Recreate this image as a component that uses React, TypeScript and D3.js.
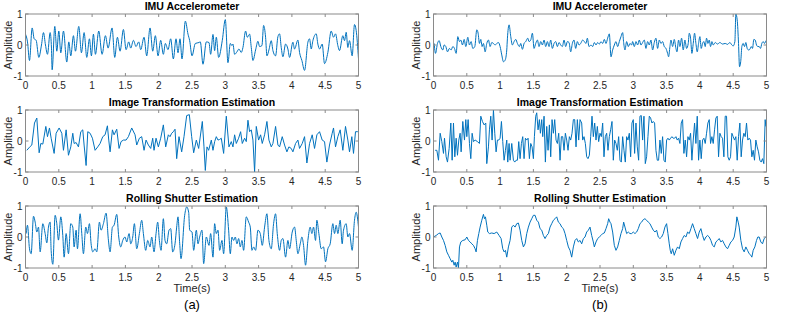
import React from "react";
import * as d3 from "d3";

type Pt = [number, number];

// tick values shared by every panel
const timeTicks = [0, 0.5, 1, 1.5, 2, 2.5, 3, 3.5, 4, 4.5, 5];
const ampTicks = [-1, 0, 1];

// (a) IMU accelerometer, [time s, amplitude]
const imuA: Pt[] = [
  [0, 0.35], [0.03, 0.1], [0.06, -0.5], [0.1, 0.55], [0.13, 0.2], [0.16, 0.15], [0.2, -0.4], [0.24, 0],
  [0.27, 0.4], [0.3, 0], [0.33, -0.3], [0.37, 0.4], [0.39, -0.1], [0.4, -0.8], [0.44, 0.6], [0.47, -0.2],
  [0.5, 0.45], [0.53, -0.25], [0.57, 0.45], [0.62, -0.55], [0.65, 0.1], [0.68, -0.35], [0.72, 0.3],
  [0.75, -0.2], [0.8, 0.6], [0.84, -0.25], [0.88, 0.4], [0.92, -0.4], [0.96, 0.2], [0.99, -0.35],
  [1.02, 0.35], [1.05, -0.3], [1.1, 0.45], [1.15, -0.3], [1.2, 0.3], [1.24, -0.1], [1.3, 0.55],
  [1.34, -0.4], [1.38, 0.25], [1.42, -0.2], [1.47, 0.5], [1.51, -0.15], [1.55, 0.1], [1.58, -0.1],
  [1.62, 0.15], [1.66, -0.05], [1.7, 0.1], [1.73, -0.15], [1.78, 0.25], [1.82, -0.35], [1.87, 0.55],
  [1.91, -0.2], [1.95, 0.3], [1.99, -0.35], [2.03, 0.15], [2.07, -0.3], [2.1, 0.05], [2.14, -0.15],
  [2.18, 0.2], [2.22, -0.45], [2.26, 0.2], [2.29, -0.25], [2.32, 0.2], [2.35, -0.45], [2.4, 0.77],
  [2.44, 0.35], [2.465, 0.14], [2.5, -0.35], [2.55, 0.05], [2.605, 0.08], [2.625, 0.1], [2.665, -0.62],
  [2.715, 0.1], [2.755, 0.08], [2.78, -0.3], [2.815, 0.34], [2.84, -0.18], [2.865, 0.25], [2.9, -0.4],
  [2.955, 0.15], [3.0, 0.82], [3.04, -0.57], [3.075, 0.05], [3.1, -0.02], [3.115, 0.03], [3.14, -0.3],
  [3.175, -0.22], [3.205, -0.13], [3.24, -0.24], [3.265, -0.08], [3.305, 0.45], [3.33, 0.25],
  [3.365, 0.35], [3.39, -0.08], [3.415, -0.5], [3.455, -0.16], [3.49, 0.12], [3.515, -0.05],
  [3.55, -0.02], [3.575, 0.63], [3.605, 0.25], [3.625, -0.35], [3.655, -0.16], [3.69, 0.14],
  [3.715, -0.18], [3.755, -0.35], [3.79, 0.27], [3.815, 0.36], [3.84, -0.08], [3.865, -0.38],
  [3.905, 0.03], [3.94, -0.13], [3.965, -0.4], [4.015, 0.09], [4.04, -0.13], [4.09, 0.16],
  [4.115, -0.24], [4.15, -0.5], [4.19, -0.82], [4.24, 0.09], [4.265, 0.2], [4.29, -0.13], [4.315, 0.14],
  [4.365, 0.36], [4.39, 0.03], [4.415, -0.13], [4.455, 0.03], [4.49, -0.6], [4.54, -0.24], [4.59, 0.45],
  [4.625, 0.25], [4.655, 0.36], [4.69, -0.02], [4.715, -0.18], [4.765, 0.3], [4.79, 0.14], [4.815, 0.41],
  [4.84, -0.08], [4.865, 0.14], [4.905, -0.35], [4.94, 0.66], [4.965, 0.47], [5.0, -0.45],
];

// (a) image transformation estimation
const imgA: Pt[] = [
  [0.02, -0.3], [0.06, -0.2], [0.095, -0.13], [0.135, 0.58], [0.17, 0.74], [0.205, -0.38], [0.23, -0.08],
  [0.26, -0.1], [0.305, 0.47], [0.33, 0.14], [0.36, 0.42], [0.385, 0.09], [0.43, -0.4], [0.46, 0.25],
  [0.505, 0.42], [0.545, 0.25], [0.57, -0.3], [0.61, 0.36], [0.645, -0.46], [0.68, -0.19], [0.71, 0.25],
  [0.73, -0.08], [0.76, -0.05], [0.795, -0.19], [0.83, 0.3], [0.86, 0.36], [0.88, -0.13], [0.91, -0.79],
  [0.935, 0.3], [0.97, 0.25], [1.005, 0.09], [1.045, -0.3], [1.085, -0.19], [1.12, -0.08], [1.16, 0.14],
  [1.195, 0.2], [1.23, 0.49], [1.25, 0.03], [1.27, -0.35], [1.305, 0.36], [1.33, 0.2], [1.37, 0.38],
  [1.405, -0.24], [1.435, -0.02], [1.47, 0.03], [1.51, 0.03], [1.545, 0.14], [1.595, 0.42], [1.645, 0.2],
  [1.67, -0.13], [1.71, 0.09], [1.745, 0.14], [1.78, -0.3], [1.81, 0.03], [1.845, -0.13], [1.88, -0.24],
  [1.91, 0.09], [1.93, -0.3], [1.96, 0.09], [1.995, -0.19], [2.03, 0.09], [2.07, 0.52], [2.105, -0.19],
  [2.145, 0.2], [2.17, 0.14], [2.195, 0.25], [2.22, 0.3], [2.245, 0.38], [2.27, -0.57], [2.305, 0.14],
  [2.345, -0.35], [2.38, 0.14], [2.42, 0.82], [2.46, 0.85], [2.495, 0.14], [2.525, -0.38], [2.565, 0.03],
  [2.6, -0.24], [2.655, 0.63], [2.68, -0.19], [2.7, -0.95], [2.725, -0.19], [2.75, -0.3], [2.79, 0.03],
  [2.815, -0.3], [2.84, -0.02], [2.865, 0.14], [2.89, 0.03], [2.915, 0.05], [2.94, 0.09], [2.975, -0.4],
  [3.015, 0.8], [3.055, -0.19], [3.09, -0.02], [3.115, -0.19], [3.14, 0.2], [3.165, -0.08], [3.2, 0.09],
  [3.23, 0.3], [3.255, -0.08], [3.29, 0.09], [3.315, -0.02], [3.34, 0.67], [3.365, 0.3], [3.39, 0.36],
  [3.415, 0.03], [3.44, -1.0], [3.465, 0.47], [3.5, 0.03], [3.53, 0.2], [3.555, -0.08], [3.59, 0.2],
  [3.625, 0.63], [3.655, 0.03], [3.69, -0.19], [3.715, -0.08], [3.755, 0.47], [3.79, -0.13],
  [3.815, -0.19], [3.855, 0.14], [3.89, -0.13], [3.925, -0.35], [3.955, -0.19], [3.99, -0.24],
  [4.015, -0.35], [4.055, -0.08], [4.09, 0.03], [4.115, -0.24], [4.155, -0.08], [4.19, 0.14],
  [4.225, -0.71], [4.265, -0.08], [4.305, 0.2], [4.34, -0.24], [4.375, 0.2], [4.415, 0.3], [4.455, 0.03],
  [4.49, -0.02], [4.525, -0.68], [4.565, -0.13], [4.605, 0.25], [4.625, 0.42], [4.655, -0.19],
  [4.69, 0.14], [4.725, 0.36], [4.765, -0.3], [4.805, 0.47], [4.84, 0.03], [4.865, -0.35], [4.9, 0.14],
  [4.925, -0.4], [4.955, 0.3], [4.99, 0.3],
];

// (a) rolling shutter estimation
const rsA: Pt[] = [
  [0.01, 0.11], [0.03, 0.38], [0.06, -0.38], [0.085, -0.54], [0.12, 0.67], [0.145, 0.48], [0.17, 0.16],
  [0.195, 0.32], [0.22, -0.48], [0.26, 0.43], [0.295, 0.11], [0.32, -0.19], [0.345, 0.32], [0.37, 0.48],
  [0.385, -0.43], [0.41, -0.88], [0.445, 0.7], [0.47, 0.43], [0.495, -0.1], [0.53, 0.65], [0.56, 0.05],
  [0.58, -0.65], [0.61, 0.11], [0.645, -0.54], [0.68, 0.43], [0.71, 0.32], [0.73, -0.32], [0.76, 0.22],
  [0.78, -0.38], [0.82, 0.75], [0.845, 0.11], [0.87, -0.54], [0.905, 0.32], [0.93, 0.11], [0.96, 0.43],
  [0.985, -0.22], [1.01, -0.48], [1.045, -0.38], [1.07, -0.48], [1.11, 0.48], [1.135, 0.22], [1.17, 0.43],
  [1.21, 0.77], [1.245, -0.1], [1.27, -0.48], [1.305, 0.32], [1.33, 0.38], [1.37, 0.73], [1.4, 0],
  [1.43, -0.32], [1.46, -0.11], [1.495, 0], [1.52, -0.16], [1.555, 0.11], [1.58, -0.22], [1.61, 0],
  [1.635, 0.43], [1.67, -0.38], [1.71, 0.11], [1.745, 0.54], [1.77, 0.11], [1.805, -0.43], [1.835, -0.11],
  [1.87, -0.32], [1.895, 0], [1.93, -0.48], [1.96, 0.11], [1.985, 0.48], [2.01, -0.11], [2.035, -0.43],
  [2.07, 0.59], [2.095, -0.11], [2.12, -0.22], [2.155, 0.22], [2.18, 0.27], [2.21, -0.48], [2.245, -0.22],
  [2.27, 0.32], [2.29, 0.65], [2.315, -0.2], [2.335, -0.7], [2.39, 0.7], [2.42, 0.97], [2.45, 0.8],
  [2.465, 0.22], [2.5, 0.16], [2.525, -0.43], [2.565, 0.22], [2.59, -0.22], [2.615, 0], [2.65, 0.22],
  [2.675, -0.86], [2.715, 0], [2.755, -0.27], [2.78, 0.11], [2.815, -0.65], [2.84, 0.43], [2.865, 0.11],
  [2.89, 0.22], [2.915, -0.43], [2.95, -0.11], [2.975, -0.54], [3.015, 0.97], [3.05, 0.22], [3.075, -0.54],
  [3.1, 0], [3.125, -0.11], [3.15, 0], [3.175, -0.22], [3.2, -0.05], [3.225, -0.32], [3.25, -0.11],
  [3.275, -0.43], [3.315, 0.65], [3.35, 0.48], [3.375, 0.32], [3.4, -0.43], [3.425, -0.32], [3.455, -0.43],
  [3.49, 0.22], [3.525, 0.11], [3.555, -0.27], [3.59, 0.32], [3.625, 0.75], [3.655, -0.11], [3.69, -0.38],
  [3.725, 0.43], [3.755, 0.75], [3.78, 0.11], [3.815, -0.43], [3.84, -0.11], [3.865, -0.05], [3.905, -0.65],
  [3.94, -0.11], [3.965, -0.38], [4.005, 0.16], [4.04, 0.32], [4.065, -0.11], [4.09, -0.54], [4.125, -0.22],
  [4.15, 0], [4.175, -0.27], [4.205, -0.91], [4.24, -0.11], [4.275, 0.32], [4.3, 0.11], [4.325, 0.32],
  [4.355, -0.11], [4.375, 0.54], [4.405, 0.11], [4.44, -0.38], [4.475, -0.32], [4.505, -0.8], [4.54, -0.38],
  [4.575, -0.22], [4.615, 0.43], [4.64, 0.11], [4.665, 0.38], [4.69, 0.11], [4.725, 0.54], [4.755, -0.22],
  [4.775, 0.22], [4.815, 0.43], [4.84, 0], [4.865, 0.11], [4.905, -0.43], [4.94, 0.54], [4.965, 0.8],
  [5.0, 0.32],
];

// (b) IMU accelerometer
const imuB: Pt[] = [
  [0.01, 0.05], [0.03, -0.27], [0.06, 0.05], [0.085, 0.14], [0.11, -0.05], [0.14, -0.16], [0.16, 0],
  [0.185, -0.05], [0.21, -0.22], [0.24, -0.11], [0.265, -0.16], [0.29, -0.05], [0.315, -0.11], [0.34, -0.27],
  [0.365, 0.27], [0.39, 0.11], [0.41, 0.16], [0.435, 0], [0.46, 0.18], [0.485, -0.05], [0.515, 0.25],
  [0.54, 0], [0.565, 0.11], [0.59, -0.11], [0.62, -0.05], [0.65, 0.49], [0.67, 0.38], [0.69, 0.05],
  [0.71, 0.18], [0.73, -0.05], [0.75, 0.05], [0.775, -0.22], [0.8, 0.05], [0.825, 0.16], [0.85, -0.05],
  [0.875, 0.08], [0.9, 0.05], [0.925, 0], [0.95, 0.05], [0.975, 0.08], [1.0, -0.05], [1.025, -0.32],
  [1.05, -0.54], [1.075, -0.49], [1.1, -0.16], [1.11, 0.22], [1.135, 0.65], [1.16, 0.27], [1.185, 0],
  [1.21, 0.11], [1.235, 0.18], [1.26, 0.05], [1.29, -0.05], [1.31, 0.05], [1.335, -0.14], [1.36, 0.05],
  [1.385, 0.11], [1.415, 0.22], [1.435, 0.11], [1.46, 0.16], [1.485, 0.38], [1.51, -0.11], [1.535, 0.05],
  [1.56, 0.16], [1.585, -0.05], [1.61, 0.11], [1.635, 0], [1.66, 0.16], [1.685, -0.05], [1.71, 0.11],
  [1.735, -0.05], [1.76, 0.16], [1.785, -0.11], [1.81, 0.05], [1.835, 0.11], [1.86, -0.05], [1.885, 0.08],
  [1.91, 0], [1.935, -0.05], [1.96, 0.16], [1.985, -0.05], [2.01, 0.11], [2.035, 0.08], [2.06, -0.22],
  [2.085, 0.05], [2.11, 0.16], [2.135, -0.11], [2.16, 0.11], [2.185, 0], [2.21, 0.05], [2.24, 0.16],
  [2.265, 0.11], [2.29, 0.05], [2.31, 0.22], [2.335, -0.05], [2.365, 0], [2.39, -0.05], [2.415, 0.08],
  [2.44, 0], [2.465, 0.08], [2.49, 0.03], [2.515, 0.11], [2.54, 0.05], [2.565, 0.18], [2.59, 0.05],
  [2.615, 0.22], [2.64, 0.36], [2.665, -0.38], [2.69, -0.16], [2.715, 0], [2.74, 0.11], [2.765, -0.05],
  [2.79, 0.11], [2.815, 0.27], [2.84, 0.4], [2.855, 0.08], [2.875, -0.16], [2.9, 0.11], [2.925, -0.05],
  [2.95, 0.05], [2.975, 0], [2.99, 0.11], [3.015, -0.05], [3.04, 0.11], [3.065, 0], [3.09, 0.16],
  [3.115, 0], [3.14, 0.08], [3.165, 0.16], [3.19, -0.11], [3.215, 0.11], [3.24, 0], [3.265, 0.16],
  [3.29, -0.16], [3.315, 0.08], [3.34, 0.22], [3.365, -0.11], [3.39, 0.16], [3.415, 0.05], [3.44, 0.11],
  [3.465, -0.05], [3.49, -0.11], [3.515, -0.27], [3.53, -0.38], [3.55, -0.05], [3.565, 0.16], [3.59, -0.05],
  [3.615, 0.18], [3.64, -0.11], [3.655, -0.22], [3.68, 0.16], [3.7, -0.05], [3.725, 0.22], [3.75, -0.16],
  [3.775, 0.16], [3.8, -0.11], [3.825, 0.05], [3.84, 0.38], [3.86, 0.22], [3.88, -0.27], [3.9, 0.05],
  [3.92, 0.38], [3.94, 0.05], [3.96, -0.22], [3.98, 0.05], [4.0, 0.27], [4.02, -0.11], [4.04, 0.05],
  [4.06, 0.11], [4.08, -0.05], [4.1, 0.22], [4.12, 0.05], [4.14, 0.16], [4.16, -0.05], [4.18, 0.11],
  [4.2, 0], [4.23, 0.08], [4.265, 0.03], [4.3, 0.08], [4.34, 0.03], [4.38, 0.05], [4.415, 0.02],
  [4.45, 0.08], [4.48, 0], [4.5, -0.03], [4.525, 0.11], [4.54, 1.0], [4.56, 0.81], [4.58, 0.05],
  [4.595, -0.7], [4.615, -0.49], [4.63, -0.05], [4.65, 0.05], [4.67, -0.05], [4.69, 0.08], [4.71, -0.11],
  [4.73, -0.16], [4.75, -0.14], [4.77, -0.05], [4.79, -0.11], [4.81, 0.18], [4.83, 0.16], [4.85, 0],
  [4.87, -0.05], [4.89, -0.05], [4.91, -0.11], [4.93, 0.05], [4.95, 0.11], [4.97, 0.05], [4.99, 0.14],
];

// (b) image transformation estimation
const imgB: Pt[] = [
  [0.025, -0.3], [0.05, -0.3], [0.075, -0.62], [0.1, 0.25], [0.125, -0.02], [0.15, -0.4], [0.165, 0.09],
  [0.19, -0.51], [0.21, -0.68], [0.235, -0.24], [0.26, 0.58], [0.28, -0.62], [0.3, 0.58], [0.32, -0.51],
  [0.34, 0.09], [0.36, -0.46], [0.38, 0.03], [0.4, 0.25], [0.415, -0.35], [0.44, 0.63], [0.465, 0.03],
  [0.485, 0.69], [0.5, 0.14], [0.52, 0.69], [0.54, -0.08], [0.56, -0.57], [0.58, 0.25], [0.6, -0.02],
  [0.625, 0.03], [0.66, -0.02], [0.69, -0.08], [0.71, 0.8], [0.735, 0.63], [0.76, 0.52], [0.785, 0.58],
  [0.8, -0.73], [0.825, -0.19], [0.84, 0.36], [0.86, 0.8], [0.88, 0.03], [0.9, 1.0], [0.92, 0.25],
  [0.94, -0.35], [0.96, 0.03], [0.98, 0.03], [1.0, 0.09], [1.02, 0.63], [1.04, -0.02], [1.06, -0.62],
  [1.08, -0.3], [1.1, 0.03], [1.115, -0.68], [1.135, -0.08], [1.15, -0.62], [1.175, -0.08], [1.2, -0.62],
  [1.22, -0.68], [1.24, -0.62], [1.26, -0.62], [1.28, -0.02], [1.3, -0.57], [1.32, -0.08], [1.34, 0.14],
  [1.36, -0.57], [1.38, 0.09], [1.4, 0.03], [1.42, 0.09], [1.44, -0.57], [1.46, -0.08], [1.48, -0.19],
  [1.5, -0.57], [1.515, 0.14], [1.535, 0.8], [1.55, 0.91], [1.57, 0.36], [1.59, 0.69], [1.605, 0.25],
  [1.625, 0.69], [1.64, 0.14], [1.66, 0.8], [1.68, -0.68], [1.7, 0.47], [1.72, -0.3], [1.74, 0.52],
  [1.76, -0.51], [1.78, 0.69], [1.8, 0.25], [1.82, 0.69], [1.84, 0.03], [1.86, -0.08], [1.88, 0.25],
  [1.9, -0.62], [1.92, 0.14], [1.94, 0.14], [1.96, -0.3], [1.98, 0.25], [2.0, 0.03], [2.02, -0.3],
  [2.04, 0.14], [2.06, 0.03], [2.08, 0.25], [2.1, 0.69], [2.12, 0.69], [2.14, -0.19], [2.16, 0.69],
  [2.18, 0.03], [2.2, 0.69], [2.225, 0.58], [2.24, 0.03], [2.26, 0.14], [2.28, -0.08], [2.3, -0.51],
  [2.32, -0.57], [2.34, -0.46], [2.36, 0.14], [2.38, 0.8], [2.4, 0.14], [2.42, 0.58], [2.44, 0.03],
  [2.46, 0.47], [2.48, -0.02], [2.5, 0.25], [2.52, 0.14], [2.54, 0.58], [2.56, -0.51], [2.58, 0.14],
  [2.6, 0.25], [2.62, -0.3], [2.64, 0.14], [2.66, 0.36], [2.68, 0.63], [2.7, -0.62], [2.72, 0.03],
  [2.74, -0.08], [2.76, -0.3], [2.78, 0.14], [2.8, -0.62], [2.82, -0.68], [2.84, 0.14], [2.86, -0.3],
  [2.88, -0.68], [2.9, 0.14], [2.92, 0.03], [2.94, 0.25], [2.96, -0.51], [2.98, 0.58], [3.0, 0.69],
  [3.02, -0.4], [3.04, 0.58], [3.06, -0.19], [3.08, -0.62], [3.1, 0.8], [3.12, 0.82], [3.14, 0.03],
  [3.16, 0.8], [3.18, -0.73], [3.2, -0.51], [3.22, 0.14], [3.24, 0.8], [3.26, 0.74], [3.28, 0.58],
  [3.3, 0.63], [3.32, 0.58], [3.34, -0.3], [3.36, -0.62], [3.38, -0.62], [3.4, 0.03], [3.42, -0.4],
  [3.44, 0.14], [3.46, -0.62], [3.48, -0.68], [3.5, 0.03], [3.52, 0.09], [3.54, 0.03], [3.56, 0.09],
  [3.58, 0.14], [3.6, 0.09], [3.62, 0.09], [3.64, 0.14], [3.66, 0.03], [3.68, 0.09], [3.7, -0.08],
  [3.72, 0.58], [3.74, 0.69], [3.76, -0.4], [3.78, 0.03], [3.8, -0.51], [3.82, 0.14], [3.84, 0.03],
  [3.86, 0.25], [3.88, -0.62], [3.9, 0.03], [3.92, 0.58], [3.94, -0.08], [3.96, 0.8], [3.98, -0.62],
  [4.0, 0.03], [4.02, -0.57], [4.04, 0.03], [4.06, 0.09], [4.08, -0.08], [4.1, 0.25], [4.12, 0.58],
  [4.14, 0.69], [4.16, -0.08], [4.18, 0.14], [4.2, -0.08], [4.22, 0.36], [4.24, 0.74], [4.26, 0.8],
  [4.28, -0.51], [4.3, 0.25], [4.32, 0.14], [4.34, 0.09], [4.36, -0.51], [4.38, 0.8], [4.4, 0.8],
  [4.42, -0.51], [4.44, -0.62], [4.46, -0.51], [4.48, 0.25], [4.5, 0.14], [4.52, 0.03], [4.54, 0.14],
  [4.56, -0.62], [4.58, 0.14], [4.6, 0.58], [4.62, -0.51], [4.64, 0.03], [4.66, 0.25], [4.68, 0.14],
  [4.7, 0.58], [4.72, 0.03], [4.74, 0.09], [4.76, 0.03], [4.78, -0.51], [4.8, -0.3], [4.82, -0.62],
  [4.84, 0.03], [4.86, -0.19], [4.88, -0.35], [4.9, -0.62], [4.92, -0.68], [4.94, -0.57], [4.96, -0.73],
  [4.98, 0.69], [4.99, 0.47],
];

// (b) rolling shutter estimation
const rsB: Pt[] = [
  [0, 0], [0.04, 0.05], [0.075, 0.11], [0.1, 0.13], [0.125, 0], [0.15, -0.11], [0.175, -0.27], [0.2, -0.48],
  [0.225, -0.59], [0.25, -0.7], [0.275, -0.81], [0.29, -0.75], [0.31, -0.91], [0.325, -0.81], [0.34, -0.97],
  [0.36, -0.81], [0.375, -0.99], [0.39, -0.32], [0.41, -0.16], [0.44, -0.11], [0.475, -0.09], [0.5, 0],
  [0.525, -0.11], [0.55, -0.16], [0.575, -0.22], [0.6, -0.27], [0.625, -0.38], [0.64, -0.48], [0.66, -0.11],
  [0.68, 0.11], [0.7, 0.32], [0.725, 0.54], [0.75, 0.73], [0.765, 0.59], [0.78, 0.65], [0.8, 0.38],
  [0.815, 0.16], [0.84, 0.11], [0.875, 0.13], [0.91, 0.11], [0.95, 0.16], [0.985, 0.05], [1.015, -0.05],
  [1.04, -0.38], [1.06, -0.48], [1.08, -0.43], [1.1, -0.65], [1.125, -0.32], [1.15, -0.11], [1.175, 0.32],
  [1.2, 0.38], [1.225, 0.32], [1.25, 0.43], [1.275, 0.45], [1.3, 0.22], [1.325, -0.11], [1.35, -0.32],
  [1.375, -0.22], [1.4, 0.11], [1.425, 0.32], [1.45, 0.48], [1.475, 0.59], [1.5, 0.7], [1.525, 0.7],
  [1.55, 0.54], [1.575, 0.48], [1.6, 0.27], [1.625, 0.22], [1.65, 0.05], [1.675, -0.05], [1.7, 0.05],
  [1.725, 0.11], [1.75, 0.32], [1.775, 0.43], [1.8, 0.54], [1.825, 0.59], [1.85, 0.65], [1.875, 0.48],
  [1.9, 0.43], [1.925, 0.32], [1.95, 0.27], [1.975, 0.11], [2.0, -0.11], [2.025, -0.32], [2.05, -0.43],
  [2.075, -0.65], [2.1, -0.32], [2.125, -0.11], [2.15, -0.05], [2.175, -0.16], [2.2, -0.11], [2.225, -0.22],
  [2.25, -0.05], [2.275, 0], [2.3, 0.16], [2.325, 0.22], [2.35, 0.32], [2.375, 0.05], [2.4, -0.16],
  [2.415, -0.32], [2.44, -0.16], [2.465, -0.05], [2.49, 0], [2.515, 0.05], [2.54, 0.11], [2.565, 0.13],
  [2.59, 0.27], [2.615, 0.43], [2.63, 0.59], [2.65, 0.48], [2.665, 0.43], [2.69, 0.16], [2.715, -0.27],
  [2.74, -0.43], [2.765, -0.32], [2.79, -0.11], [2.815, 0.11], [2.84, 0.27], [2.855, 0.48], [2.875, 0.32],
  [2.9, 0.11], [2.925, 0.16], [2.95, 0.11], [2.975, 0.11], [3.0, 0.16], [3.025, 0.11], [3.05, 0.16],
  [3.075, 0.27], [3.1, 0.43], [3.125, 0.48], [3.15, 0.56], [3.175, 0.59], [3.2, 0.54], [3.225, 0.48],
  [3.25, 0.43], [3.275, 0.32], [3.3, 0.22], [3.325, 0.16], [3.35, 0.22], [3.375, 0], [3.4, -0.05],
  [3.425, 0], [3.45, 0.11], [3.475, 0.32], [3.5, 0.43], [3.52, 0.11], [3.54, -0.22], [3.555, -0.43],
  [3.57, -0.54], [3.59, -0.38], [3.615, -0.59], [3.64, -0.43], [3.665, -0.32], [3.69, -0.38], [3.715, -0.16],
  [3.74, -0.05], [3.765, 0.05], [3.79, 0], [3.815, 0.16], [3.84, 0.11], [3.865, 0.27], [3.89, 0.43],
  [3.915, 0.27], [3.94, 0.11], [3.965, -0.05], [3.99, 0.16], [4.015, 0.27], [4.04, 0.05], [4.065, -0.11],
  [4.09, 0], [4.115, 0.05], [4.14, 0], [4.165, -0.11], [4.19, -0.27], [4.215, -0.32], [4.24, -0.16],
  [4.265, -0.11], [4.29, -0.05], [4.315, -0.16], [4.34, -0.11], [4.365, -0.22], [4.39, -0.32], [4.415, -0.38],
  [4.44, -0.27], [4.465, -0.16], [4.49, -0.11], [4.515, 0], [4.54, 0.32], [4.555, 0.65], [4.575, 0.48],
  [4.59, 0.32], [4.615, -0.11], [4.64, -0.38], [4.665, -0.48], [4.69, -0.32], [4.715, -0.43], [4.74, -0.54],
  [4.765, -0.59], [4.78, -0.65], [4.8, -0.43], [4.825, -0.32], [4.85, -0.11], [4.87, 0], [4.89, 0],
  [4.915, -0.16], [4.94, -0.22], [4.965, -0.05], [4.99, 0],
];

const titles = ["IMU Accelerometer", "Image Transformation Estimation", "Rolling Shutter Estimation"];
const columnLabels = ["(a)", "(b)"];
const columns = [
  [imuA, imgA, rsA],
  [imuB, imgB, rsB],
];
// smooth curve for the band-limited traces, straight segments for the jagged ones
const smoothPanels = [
  [true, false, true],
  [true, false, false],
];

const FONT = "'Liberation Sans', Arial, Helvetica, sans-serif";
const COL_X = [25.5, 433.5];
const ROW_Y = [14, 110, 206];
const PW = 333;
const PH = 62;

const x = d3.scaleLinear().domain([0, 5]).range([0, PW]);
const y = d3.scaleLinear().domain([-1, 1]).range([PH, 0]);

function Panel({ id, title, data, smooth }: { id: string; title: string; data: Pt[]; smooth: boolean }) {
  const line = d3
    .line<Pt>()
    .x((d) => x(d[0]))
    .y((d) => y(d[1]))
    .curve(smooth ? d3.curveMonotoneX : d3.curveLinear);

  return (
    <g>
      <clipPath id={id}>
        <rect x={0} y={0} width={PW} height={PH} />
      </clipPath>
      <path d={line(data) || ""} fill="none" stroke="#0072BD" strokeWidth={1} clipPath={`url(#${id})`} />
      <rect x={0} y={0} width={PW} height={PH} fill="none" stroke="#8a8a8a" strokeWidth={1} />
      {timeTicks.map((t) => (
        <g key={t}>
          <line x1={x(t)} x2={x(t)} y1={PH} y2={PH - 3} stroke="#8a8a8a" />
          <line x1={x(t)} x2={x(t)} y1={0} y2={3} stroke="#8a8a8a" />
          <text x={x(t)} y={PH + 12.5} textAnchor="middle" fontSize={10} fill="#262626">
            {t}
          </text>
        </g>
      ))}
      {ampTicks.map((a) => (
        <g key={a}>
          <line x1={0} x2={3} y1={y(a)} y2={y(a)} stroke="#8a8a8a" />
          <line x1={PW} x2={PW - 3} y1={y(a)} y2={y(a)} stroke="#8a8a8a" />
          <text x={-3} y={y(a) + 3.5} textAnchor="end" fontSize={10} fill="#262626">
            {a}
          </text>
        </g>
      ))}
      <text x={PW / 2} y={-4.5} textAnchor="middle" fontSize={10.5} fontWeight="bold" fill="#000">
        {title}
      </text>
      <text transform={`translate(-14,${PH / 2}) rotate(-90)`} textAnchor="middle" fontSize={11} fill="#262626">
        Amplitude
      </text>
    </g>
  );
}

export default function App() {
  return (
    <svg
      width={789}
      height={313}
      style={{ position: "absolute", left: 0, top: 0, background: "#fff" }}
      fontFamily={FONT}
    >
      {columns.map((col, c) => (
        <g key={c}>
          {col.map((data, r) => (
            <g key={r} transform={`translate(${COL_X[c]},${ROW_Y[r]})`}>
              <Panel id={`clip-${c}-${r}`} title={titles[r]} data={data} smooth={smoothPanels[c][r]} />
            </g>
          ))}
          <text x={COL_X[c] + PW / 2} y={ROW_Y[2] + PH + 24} textAnchor="middle" fontSize={11} fill="#262626">
            Time(s)
          </text>
          <text x={COL_X[c] + PW / 2} y={309} textAnchor="middle" fontSize={13} fill="#000">
            {columnLabels[c]}
          </text>
        </g>
      ))}
    </svg>
  );
}
